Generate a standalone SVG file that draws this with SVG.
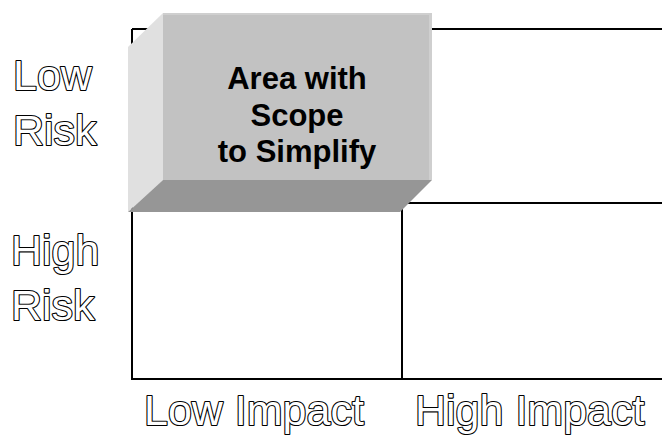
<svg xmlns="http://www.w3.org/2000/svg" width="662" height="435" viewBox="0 0 662 435">
  <style>
    .grid { stroke: #000; stroke-width: 2; fill: none; }
    .outline { font-family: "Liberation Sans", Arial, sans-serif; font-size: 43px; fill: #fff; stroke: #000; stroke-width: 2.2; paint-order: stroke; stroke-linejoin: round; }
    .boxtext { font-family: "Liberation Sans", Arial, sans-serif; font-size: 31px; font-weight: bold; fill: #000; text-anchor: middle; }
  </style>
  <rect width="662" height="435" fill="#fff"/>
  <g id="grid">
    <path class="grid" d="M132,29 H662 M132,29 V379 H662 M402,203 V379 M402,203 H662"/>
  </g>
  <g id="scope-box">
    <polygon points="128,47 163,13 163,180 128,212" fill="#e0e0e0"/>
    <polygon points="128,212 163,180 432,180 400,212" fill="#969696"/>
    <rect x="163" y="13" width="269" height="167" fill="#c2c2c2"/>
    <rect x="163" y="13" width="269" height="2" fill="#cfcfcf"/>
    <rect x="429" y="13" width="3" height="167" fill="#cfcfcf"/>
    <text class="boxtext" x="297" y="89">Area with</text>
    <text class="boxtext" x="297" y="126">Scope</text>
    <text class="boxtext" x="297" y="162">to Simplify</text>
  </g>
  <g id="label-low-risk">
    <text class="outline" x="13" y="90">Low</text>
    <text class="outline" x="13" y="145">Risk</text>
  </g>
  <g id="label-high-risk">
    <text class="outline" x="11" y="265">High</text>
    <text class="outline" x="11" y="320">Risk</text>
  </g>
  <g id="label-low-impact">
    <text class="outline" x="144" y="425">Low Impact</text>
  </g>
  <g id="label-high-impact">
    <text class="outline" x="415" y="425">High Impact</text>
  </g>
</svg>
